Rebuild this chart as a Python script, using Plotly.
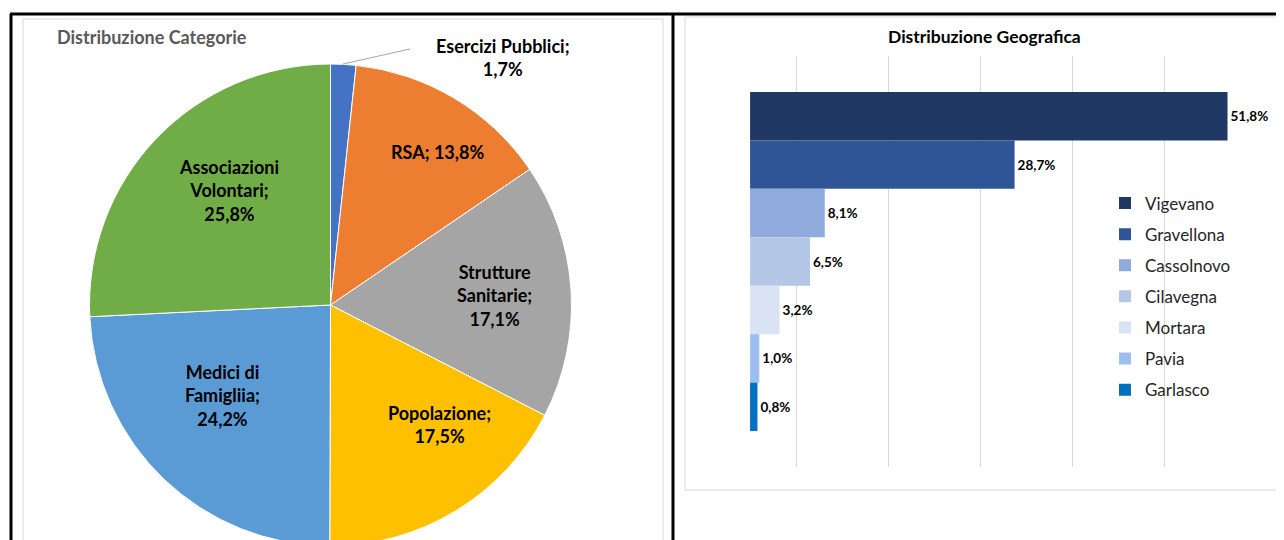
import plotly.graph_objects as go

W, H = 1284, 540

# ---------------- data ----------------
cat_labels = ["Esercizi Pubblici", "RSA", "Strutture Sanitarie", "Popolazione",
              "Medici di Famigliia", "Associazioni Volontari"]
cat_values = [1.7, 13.8, 17.1, 17.5, 24.2, 25.8]
cat_colors = ["#4472C4", "#ED7D31", "#A5A5A5", "#FFC000", "#5B9BD5", "#70AD47"]
cat_label_templates = ["Esercizi Pubblici;<br>{v}", "RSA; {v}", "Strutture<br>Sanitarie;<br>{v}",
                       "Popolazione;<br>{v}", "Medici di<br>Famigliia;<br>{v}",
                       "Associazioni<br>Volontari;<br>{v}"]

geo_names = ["Vigevano", "Gravellona", "Cassolnovo", "Cilavegna", "Mortara", "Pavia", "Garlasco"]
geo_values = [51.8, 28.7, 8.1, 6.5, 3.2, 1.0, 0.8]
geo_colors = ["#203864", "#2F5597", "#8FAADC", "#B4C7E7", "#DAE3F3", "#9DBFF0", "#0070C0"]

# ---------------- helpers (screen pixel -> paper; page body has 8px margin) ----------------
OFF = 8

def px(x):
    return (x - OFF) / W

def py(y):
    return 1 - (y - OFF) / H

FONT = "Lato"

fig = go.Figure()

# Pie
fig.add_trace(go.Pie(
    labels=cat_labels, values=cat_values, sort=False, direction="clockwise", rotation=0,
    marker=dict(colors=cat_colors, line=dict(color="white", width=1)),
    textinfo="none", hoverinfo="label+percent", showlegend=False,
    domain=dict(x=[px(89.5), px(571.5)], y=[py(546), py(64)]),
))

# Bars
for name, val, col in zip(geo_names, geo_values, geo_colors):
    fig.add_trace(go.Bar(
        x=[val], y=[0], orientation="h", name=name, legendgroup=name,
        marker=dict(color=col, line=dict(width=0)),
        text=[val], texttemplate="<b>%{x:.1f}%</b>", textposition="outside",
        textfont=dict(family=FONT, size=13.5, color="#000000"), cliponaxis=False,
        xaxis="x", yaxis="y",
    ))

# pie labels
label_pos = [(503, 57), (437, 152), (494, 295), (439, 424), (222, 395), (229, 190)]
annotations = []
for tpl, val, (lx, ly) in zip(cat_label_templates, cat_values, label_pos):
    v = f"{val:.1f}%".replace(".", ",")
    annotations.append(dict(
        x=px(lx), y=py(ly), xref="paper", yref="paper", showarrow=False,
        text="<b>" + tpl.format(v=v) + "</b>", align="center",
        font=dict(family=FONT, size=18, color="#000000"),
        xanchor="center", yanchor="middle",
    ))

annotations.append(dict(x=px(55), y=py(37), xref="paper", yref="paper", showarrow=False,
                        text="<b>Distribuzione Categorie</b>", xanchor="left", yanchor="middle",
                        font=dict(family=FONT, size=18, color="#595959")))
annotations.append(dict(x=px(985), y=py(37), xref="paper", yref="paper", showarrow=False,
                        text="<b>Distribuzione Geografica</b>", xanchor="center", yanchor="middle",
                        font=dict(family=FONT, size=17.5, color="#000000")))


def open_box(x0, y0, x1, y1):
    # top, left and bottom sides only (right side runs off the picture)
    return (f"M {px(x1)},{py(y0)} L {px(x0)},{py(y0)} L {px(x0)},{py(y1)} L {px(x1)},{py(y1)}")


shapes = [
    # chart boxes
    dict(type="rect", xref="paper", yref="paper", x0=px(23), x1=px(663), y0=py(700), y1=py(19),
         line=dict(color="#D9D9D9", width=1), layer="below"),
    dict(type="path", xref="paper", yref="paper", path=open_box(685, 17, 1450, 490),
         line=dict(color="#D9D9D9", width=1), layer="below"),
    # black frame
    dict(type="line", xref="paper", yref="paper", x0=px(10), x1=px(1450), y0=py(14), y1=py(14),
         line=dict(color="#000000", width=3)),
    dict(type="line", xref="paper", yref="paper", x0=px(11), x1=px(11), y0=py(14), y1=py(700),
         line=dict(color="#000000", width=3)),
    dict(type="line", xref="paper", yref="paper", x0=px(673), x1=px(673), y0=py(14), y1=py(700),
         line=dict(color="#000000", width=3)),
    # leader line
    dict(type="line", xref="paper", yref="paper", x0=px(343), x1=px(410), y0=py(64), y1=py(49),
         line=dict(color="#A6A6A6", width=1)),
]

fig.update_layout(
    width=W, height=H, margin=dict(l=0, r=0, t=0, b=0),
    paper_bgcolor="white", plot_bgcolor="white",
    separators=",.",
    font=dict(family=FONT, color="#000000"),
    barmode="group", bargap=0.175, bargroupgap=0,
    xaxis=dict(domain=[px(704), px(1257)], range=[-5, 55], tick0=-5, dtick=10,
               showgrid=True, gridcolor="#D9D9D9", gridwidth=1, showticklabels=False,
               zeroline=False, showline=False, ticks="", fixedrange=True),
    yaxis=dict(domain=[py(467), py(56)], range=[0.5, -0.5], showgrid=False,
               showticklabels=False, zeroline=False, showline=False, ticks="", fixedrange=True),
    legend=dict(x=px(1105), y=py(185.5), xanchor="left", yanchor="top",
                font=dict(family=FONT, size=17, color="#262626"),
                tracegroupgap=6, bgcolor="rgba(0,0,0,0)", itemclick=False),
    annotations=annotations,
    shapes=shapes,
)

fig.write_html("out.html")
